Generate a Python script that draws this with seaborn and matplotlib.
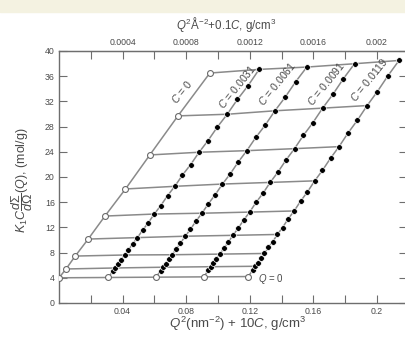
import numpy as np
import pandas as pd
import matplotlib
matplotlib.use("Agg")
import matplotlib.pyplot as plt
from matplotlib.patches import Rectangle
import seaborn as sns

# ---- data -----------------------------------------------------------------
# polymer concentrations, g/cm^3
conc = [0.0031, 0.0061, 0.0091, 0.0119]
# scattering vectors of the measured points, nm^-1
q = [0.055, 0.0665, 0.078, 0.0895, 0.101, 0.1125, 0.124, 0.1355, 0.147,
     0.1585, 0.170, 0.1815, 0.193, 0.2045, 0.216, 0.2275, 0.239, 0.2505,
     0.262, 0.2735, 0.285, 0.2965, 0.308]
# K1*C / (dSigma/dOmega), mol/g, one list per concentration
y_c1 = [5.12, 5.56, 6.19, 6.81, 7.62, 8.40, 9.42, 10.38, 11.58, 12.72, 14.12,
        15.44, 17.03, 18.52, 20.31, 21.96, 23.93, 25.79, 27.95, 29.96, 32.31,
        34.50, 37.08]
y_c2 = [5.15, 5.68, 6.22, 6.95, 7.66, 8.58, 9.48, 10.60, 11.67, 12.99, 14.25,
        15.75, 17.19, 18.88, 20.49, 22.39, 24.18, 26.27, 28.22, 30.51, 32.66,
        35.15, 37.45]
y_c3 = [5.21, 5.76, 6.30, 7.04, 7.76, 8.70, 9.61, 10.74, 11.83, 13.16, 14.43,
        15.97, 17.40, 19.14, 20.76, 22.69, 24.50, 26.62, 28.61, 30.93, 33.11,
        35.62, 37.98]
y_c4 = [5.28, 5.83, 6.37, 7.13, 7.86, 8.81, 9.72, 10.88, 11.98, 13.35, 14.61,
        16.17, 17.63, 19.39, 21.04, 22.98, 24.82, 26.97, 29.00, 31.34, 33.56,
        36.08, 38.50]
# extrapolation to Q = 0 (C = 0 first, then each concentration)
y_q0 = [4.0, 4.05, 4.1, 4.15, 4.2]
# extrapolation to C = 0 at selected Q values
q_ext = [0.0665, 0.101, 0.1355, 0.170, 0.2045, 0.239, 0.2735, 0.308]
y_c0 = [5.4, 7.45, 10.15, 13.8, 18.1, 23.5, 29.7, 36.5]

bottom_ticks = [0.04, 0.08, 0.12, 0.16, 0.2]
bottom_labels = ["0.04", "0.08", "0.12", "0.16", "0.2"]
top_ticks = [0.0004, 0.0008, 0.0012, 0.0016, 0.002]
top_labels = ["0.0004", "0.0008", "0.0012", "0.0016", "0.002"]
y_ticks = list(range(0, 41, 4))
conc_labels = ["0", "0.0031", "0.0061", "0.0091", "0.0119"]

# ---- build tables -------------------------------------------------------
q_arr = np.array(q)
series = [y_c1, y_c2, y_c3, y_c4]

dots = []
for c, ys in zip(conc, series):
    for qq, yy in zip(q, ys):
        dots.append({"x": qq ** 2 + 10 * c, "y": yy})
dots = pd.DataFrame(dots)

opens = [{"x": 10 * c, "y": y0} for c, y0 in zip([0.0] + conc, y_q0)]
opens += [{"x": qq ** 2, "y": yy} for qq, yy in zip(q_ext, y_c0)]
opens = pd.DataFrame(opens)

rows = []
# constant-C lines through the Q = 0 intercepts
for j, (c, ys) in enumerate(zip(conc, series)):
    pid = f"c{j}"
    rows.append({"path": pid, "x": 10 * c, "y": y_q0[j + 1]})
    for qq, yy in zip(q, ys):
        rows.append({"path": pid, "x": qq ** 2 + 10 * c, "y": yy})
# C = 0 extrapolation
rows.append({"path": "c0ext", "x": 0.0, "y": y_q0[0]})
for qq, yy in zip(q_ext, y_c0):
    rows.append({"path": "c0ext", "x": qq ** 2, "y": yy})
# Q = 0 extrapolation
for c, y0 in zip([0.0] + conc, y_q0):
    rows.append({"path": "q0ext", "x": 10 * c, "y": y0})
# constant-Q lines
for i, (qq, yy) in enumerate(zip(q_ext, y_c0)):
    pid = f"q{i}"
    k = int(np.argmin(np.abs(q_arr - qq)))
    rows.append({"path": pid, "x": qq ** 2, "y": yy})
    for c, ys in zip(conc, series):
        rows.append({"path": pid, "x": q[k] ** 2 + 10 * c, "y": ys[k]})
lines = pd.DataFrame(rows)

# ---- style ---------------------------------------------------------------
sns.set_style("ticks")
plt.rcParams["font.family"] = ["Liberation Sans", "DejaVu Sans"]
plt.rcParams["mathtext.fontset"] = "custom"
plt.rcParams["mathtext.rm"] = "Liberation Sans"
plt.rcParams["mathtext.it"] = "Liberation Sans:italic"
plt.rcParams["mathtext.bf"] = "Liberation Sans:bold"

text_col = "#4a4a4a"
line_col = "#8a8a8a"
axis_col = "#6e6e6e"

W, H = 406, 339
fig = plt.figure(figsize=(W / 100, H / 100), dpi=100)
fig.patches.append(Rectangle((0, 1 - 12 / H), 1, 12 / H, transform=fig.transFigure,
                             color="#f4f2e1", zorder=0))
ax = fig.add_axes([59 / W, 1 - 303 / H, 348 / W, (303 - 51) / H])
ax.set_facecolor("white")

sns.lineplot(data=lines, x="x", y="y", units="path", estimator=None, sort=False,
             color=line_col, linewidth=1.1, ax=ax, legend=False, zorder=1)
sns.scatterplot(data=dots, x="x", y="y", color="black", s=17, edgecolor="white",
                linewidth=0.5, ax=ax, legend=False, zorder=3)
sns.scatterplot(data=opens, x="x", y="y", color="white", s=18, edgecolor="#6a6a6a",
                linewidth=0.8, ax=ax, legend=False, zorder=4)

ax.set_xlim(0, 348 / 1590)
ax.set_ylim(0, 40)
ax.set_xlabel("")
ax.set_ylabel("")

ax.set_xticks(bottom_ticks)
ax.set_xticklabels(bottom_labels)
ax.set_xticks([0.02, 0.06, 0.10, 0.14, 0.18], minor=True)
ax.set_yticks(y_ticks)
ax.set_yticklabels([str(v) for v in y_ticks])
ax.tick_params(axis="both", which="both", direction="in", length=5.5, width=0.8,
               colors=axis_col, labelcolor=text_col, labelsize=6.3, pad=3)
ax.tick_params(axis="y", right=True, labelright=False)
for sp in ax.spines.values():
    sp.set_color(axis_col)
    sp.set_linewidth(1.0)

top = ax.secondary_xaxis("top", functions=(lambda v: v / 100, lambda v: v * 100))
top.set_xticks(top_ticks)
top.set_xticklabels(top_labels)
top.set_xticks([0.0002, 0.0006, 0.0010, 0.0014, 0.0018], minor=True)
top.tick_params(axis="x", which="both", direction="in", length=5.5, width=0.8,
                colors=axis_col, labelcolor=text_col, labelsize=6.3, pad=3)
top.spines["top"].set_color(axis_col)

# concentration labels along the constant-C lines
label_pos = [(0.0775, 33.6), (0.1122, 34.4), (0.1373, 34.9), (0.1681, 34.8),
             (0.1951, 35.4)]
for (lx, ly), txt in zip(label_pos, conc_labels):
    ax.text(lx, ly, r"$C$ = " + txt, rotation=51, rotation_mode="anchor",
            ha="center", va="center", fontsize=7.6, color=text_col, zorder=5)
ax.text(0.1335, 3.8, r"$Q$ = 0", ha="center", va="center", fontsize=7,
        color=text_col, zorder=5)

fig.text(238 / W, 1 - 324 / H, r"$Q^2$(nm$^{-2}$) + 10$C$, g/cm$^3$",
         ha="center", va="center", fontsize=9.5, color=text_col)
fig.text(226 / W, 1 - 25 / H, r"$Q^2$Å$^{-2}$+0.1$C$, g/cm$^3$",
         ha="center", va="center", fontsize=8.3, color=text_col)
fig.text(22 / W, 1 - 180 / H,
         r"$K_1C\dfrac{d\Sigma}{d\Omega}(Q)$, (mol/g)",
         rotation=90, ha="center", va="center", fontsize=9.0, color=text_col)

fig.savefig("out.png", dpi=100, facecolor="white")
